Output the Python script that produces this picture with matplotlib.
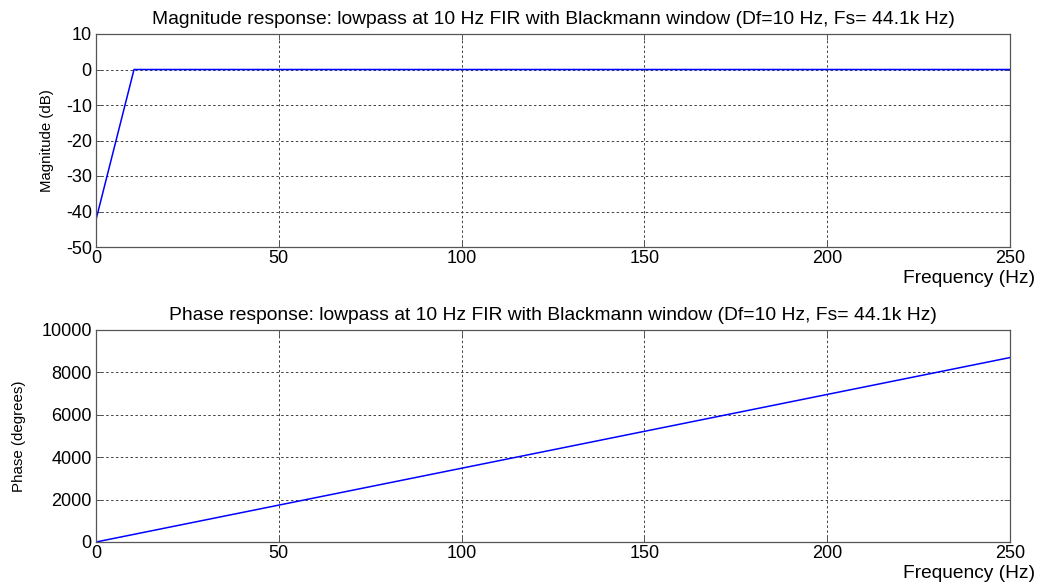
import matplotlib
matplotlib.use("Agg")
import matplotlib.pyplot as plt

plt.rcParams['font.family'] = ['Liberation Sans', 'DejaVu Sans']
plt.rcParams['axes.unicode_minus'] = False

# Magnitude response (dB) of the 10 Hz lowpass FIR
mag_freq = [0.0, 10.4, 250.0]
mag_db = [-42.3, 0.0, 0.0]

# Phase response (degrees)
phase_freq = [0.0, 250.0]
phase_deg = [0.0, 8700.0]

x_ticks = [0, 50, 100, 150, 200, 250]
mag_ticks = [10, 0, -10, -20, -30, -40, -50]
phase_ticks = [0, 2000, 4000, 6000, 8000, 10000]

title_mag = "Magnitude response: lowpass at 10 Hz FIR with Blackmann window (Df=10 Hz, Fs= 44.1k Hz)"
title_phase = "Phase response: lowpass at 10 Hz FIR with Blackmann window (Df=10 Hz, Fs= 44.1k Hz)"

fig = plt.figure(figsize=(10.46, 5.85), dpi=100)
W, H = 1046, 585
ax1 = fig.add_axes([96 / W, 1 - 247 / H, (1010 - 96) / W, (247 - 34) / H])
ax2 = fig.add_axes([96 / W, 1 - 542 / H, (1010 - 96) / W, (542 - 330) / H])


def style(ax, yticks, ylim):
    ax.set_xlim(0, 250)
    ax.set_ylim(*ylim)
    ax.set_xticks(x_ticks)
    ax.set_yticks(yticks)
    ax.grid(True, color='#404040', linestyle=(0, (2.5, 2.5)), linewidth=0.7)
    ax.tick_params(direction='in', length=4, width=0.7, colors='#555555',
                   labelcolor='black', labelsize=13, top=True, right=True)
    ax.tick_params(axis='x', pad=2.5)
    ax.tick_params(axis='y', pad=3)
    for s in ax.spines.values():
        s.set_color('#555555')
        s.set_linewidth(0.9)
    ax.set_axisbelow(True)


ax1.plot(mag_freq, mag_db, color='#0000ff', linewidth=1.1)
style(ax1, mag_ticks, (-50, 10))
ax1.set_title(title_mag, fontsize=13.9, pad=7)
ax1.set_ylabel("Magnitude (dB)", fontsize=10.8)
ax1.yaxis.set_label_coords(-0.046, 0.5)
ax1.set_xlabel("Frequency (Hz)", fontsize=13.8)
ax1.xaxis.label.set_horizontalalignment('right')
ax1.xaxis.set_label_coords(1.027, -0.11)

ax2.plot(phase_freq, phase_deg, color='#0000ff', linewidth=1.1)
style(ax2, phase_ticks, (0, 10000))
ax2.set_title(title_phase, fontsize=13.9, pad=7)
ax2.set_ylabel("Phase (degrees)", fontsize=10.9)
ax2.yaxis.set_label_coords(-0.077, 0.5)
ax2.set_xlabel("Frequency (Hz)", fontsize=13.8)
ax2.xaxis.label.set_horizontalalignment('right')
ax2.xaxis.set_label_coords(1.027, -0.11)

fig.savefig("out.png", dpi=100, facecolor='white')
